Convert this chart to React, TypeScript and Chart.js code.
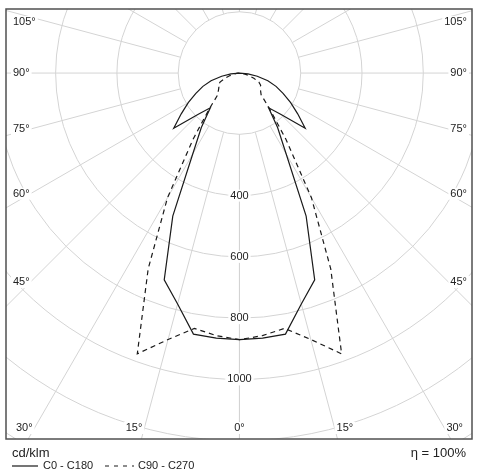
import React, { useEffect, useRef } from "react";
import { Chart, registerables } from "chart.js";

Chart.register(...registerables);

// Gamma angles (degrees from nadir) and luminous intensities (cd/klm)
const GAMMA_DEG = [0, 5, 10, 15, 20, 25, 30, 35, 40, 45, 50, 55, 60, 65, 70, 75, 80, 85, 90];
const C0_C180 = [870, 868, 865, 780, 718, 515, 305, 217, 148, 190, 280, 232, 193, 157, 127, 96, 59, 28, 0];
const C90_C270 = [870, 860, 846, 900, 975, 705, 470, 265, 155, 100, 90, 82, 80, 70, 50, 32, 16, 6, 0];

const RING_VALUES = [200, 400, 600, 800, 1000, 1200, 1400, 1600];
const RING_LABELS = [400, 600, 800, 1000];
const GRID_ANGLES = [0, 15, 30, 45, 60, 75, 90, 105, 120, 135, 150, 165, 180];
const ANGLE_LABELS = [0, 15, 30, 45, 60, 75, 90, 105];
const UNIT_LABEL = "cd/klm";
const SERIES_NAMES = ["C0 - C180", "C90 - C270"];
const EFFICIENCY_LABEL = "η = 100%";

const FONT = "'Liberation Sans', Arial, sans-serif";

function polarPoints(values: number[]) {
  const pts: { x: number; y: number }[] = [];
  for (let i = GAMMA_DEG.length - 1; i >= 0; i--) {
    const t = (GAMMA_DEG[i] * Math.PI) / 180;
    pts.push({ x: -values[i] * Math.sin(t), y: -values[i] * Math.cos(t) });
  }
  for (let i = 1; i < GAMMA_DEG.length; i++) {
    const t = (GAMMA_DEG[i] * Math.PI) / 180;
    pts.push({ x: values[i] * Math.sin(t), y: -values[i] * Math.cos(t) });
  }
  return pts;
}

function labelBox(ctx: CanvasRenderingContext2D, text: string, x: number, y: number, align: CanvasTextAlign) {
  const w = ctx.measureText(text).width;
  let x0 = x;
  if (align === "center") x0 = x - w / 2;
  else if (align === "right") x0 = x - w;
  ctx.fillStyle = "#ffffff";
  ctx.fillRect(x0 - 2, y - 6, w + 4, 12);
  ctx.fillStyle = "#222222";
  ctx.textAlign = align;
  ctx.fillText(text, x, y);
}

const polarPlugin = {
  id: "polarPlugin",
  beforeDatasetsDraw(chart: any) {
    const { ctx, chartArea: a, scales } = chart;
    const cx = scales.x.getPixelForValue(0);
    const cy = scales.y.getPixelForValue(0);
    const k = (scales.x.getPixelForValue(1000) - cx) / 1000;
    ctx.save();
    ctx.beginPath();
    ctx.rect(a.left, a.top, a.right - a.left, a.bottom - a.top);
    ctx.clip();
    ctx.strokeStyle = "#d4d4d4";
    ctx.lineWidth = 1;
    for (const v of RING_VALUES) {
      ctx.beginPath();
      ctx.arc(cx, cy, v * k, 0, Math.PI * 2);
      ctx.stroke();
    }
    const r0 = RING_VALUES[0] * k;
    const r1 = 2500 * k;
    for (const g of GRID_ANGLES) {
      for (const s of [-1, 1]) {
        const t = (g * Math.PI) / 180;
        const dx = s * Math.sin(t);
        const dy = Math.cos(t);
        ctx.beginPath();
        ctx.moveTo(cx + dx * r0, cy + dy * r0);
        ctx.lineTo(cx + dx * r1, cy + dy * r1);
        ctx.stroke();
      }
    }
    ctx.font = `11px ${FONT}`;
    ctx.textBaseline = "middle";
    // ring labels
    for (const v of RING_LABELS) {
      labelBox(ctx, String(v), cx, cy + v * k, "center");
    }
    // angle labels
    const sideReach = 209;
    const yTop = a.top + 13;
    const yBot = a.bottom - 11;
    for (const g of ANGLE_LABELS) {
      const sides = g === 0 ? [1] : [-1, 1];
      for (const s of sides) {
        const t = (g * Math.PI) / 180;
        const sn = Math.sin(t);
        const cs = Math.cos(t);
        const txt = `${g}°`;
        let x: number, y: number, align: CanvasTextAlign;
        if (g === 0) {
          x = cx;
          y = yBot;
          align = "center";
        } else {
          const ySide = cy + (sideReach / sn) * cs;
          if (ySide <= yBot) {
            y = Math.max(ySide, yTop);
            if (s > 0) {
              x = a.right - 5;
              align = "right";
            } else {
              x = a.left + 7;
              align = "left";
            }
          } else {
            y = yBot;
            const xi = cx + (s * (yBot - cy) * sn) / cs;
            x = xi + s * 2;
            align = s > 0 ? "left" : "right";
          }
        }
        labelBox(ctx, txt, x, y, align);
      }
    }
    ctx.restore();
  },
  afterDraw(chart: any) {
    const { ctx, chartArea: a } = chart;
    ctx.save();
    ctx.strokeStyle = "#505050";
    ctx.lineWidth = 1.5;
    ctx.strokeRect(a.left, a.top, a.right - a.left, a.bottom - a.top);

    ctx.fillStyle = "#222222";
    ctx.textBaseline = "middle";
    ctx.font = `13px ${FONT}`;
    ctx.textAlign = "left";
    ctx.fillText(UNIT_LABEL, 12, a.bottom + 14);
    ctx.textAlign = "right";
    ctx.fillText(EFFICIENCY_LABEL, a.right - 6, a.bottom + 14);

    const ly = a.bottom + 27;
    ctx.strokeStyle = "#1a1a1a";
    ctx.lineWidth = 1.2;
    ctx.beginPath();
    ctx.moveTo(12, ly);
    ctx.lineTo(38, ly);
    ctx.stroke();
    ctx.setLineDash([4, 5]);
    ctx.beginPath();
    ctx.moveTo(105, ly);
    ctx.lineTo(134, ly);
    ctx.stroke();
    ctx.setLineDash([]);
    ctx.font = `11px ${FONT}`;
    ctx.textAlign = "left";
    ctx.fillText(SERIES_NAMES[0], 43, ly);
    ctx.fillText(SERIES_NAMES[1], 138, ly);
    ctx.restore();
  },
};

export default function App() {
  const ref = useRef<HTMLCanvasElement | null>(null);
  useEffect(() => {
    if (!ref.current) return;
    const chart = new Chart(ref.current, {
      type: "scatter",
      data: {
        datasets: [
          {
            label: SERIES_NAMES[0],
            data: polarPoints(C0_C180),
            showLine: true,
            borderColor: "#1a1a1a",
            borderWidth: 1.2,
            pointRadius: 0,
            fill: false,
            tension: 0,
          },
          {
            label: SERIES_NAMES[1],
            data: polarPoints(C90_C270),
            showLine: true,
            borderColor: "#1a1a1a",
            borderWidth: 1.2,
            borderDash: [5, 4],
            pointRadius: 0,
            fill: false,
            tension: 0,
          },
        ],
      },
      options: {
        responsive: false,
        animation: false,
        devicePixelRatio: 1,
        events: [],
        layout: { padding: { left: 6, top: 9, right: 8, bottom: 37 } },
        scales: {
          x: { type: "linear", min: -762, max: 759, display: false },
          y: { type: "linear", min: -1194, max: 209, display: false },
        },
        plugins: { legend: { display: false }, tooltip: { enabled: false } },
      },
      plugins: [polarPlugin],
    });
    return () => chart.destroy();
  }, []);
  return (
    <div style={{ position: "absolute", left: 0, top: 0, width: 480, height: 476, background: "#fff" }}>
      <canvas ref={ref} width={480} height={476} style={{ display: "block" }} />
    </div>
  );
}
